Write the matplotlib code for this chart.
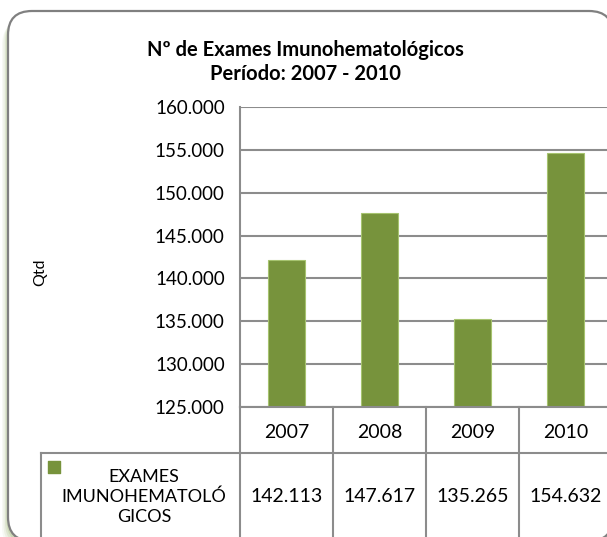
import matplotlib.pyplot as plt
from matplotlib.patches import FancyBboxPatch

plt.rcParams['font.family'] = ['Lato', 'DejaVu Sans']

anos = ['2007', '2008', '2009', '2010']
exames = [142113, 147617, 135265, 154632]
serie = 'EXAMES\nIMUNOHEMATOLÓ\nGICOS'
titulo = 'Nº de Exames Imunohematológicos\nPeríodo: 2007 - 2010'

W, H = 607, 537
verde = '#77933c'
cinza = '#8c8c8c'

def fmt(v):
    return f"{v:,.0f}".replace(',', '.')

def caixa(l, t, r, b):
    # pixel box -> figure fraction
    return [l / W, (H - b) / H, (r - l) / W, (b - t) / H]

fig = plt.figure(figsize=(W / 100, H / 100), dpi=100)

# moldura arredondada com sombra
fundo = fig.add_axes([0, 0, 1, 1])
fundo.set_xlim(0, W)
fundo.set_ylim(H, 0)
fundo.axis('off')
for k, a in enumerate([0.06, 0.09, 0.13, 0.18]):
    d = 6 - k * 1.5
    fundo.add_patch(FancyBboxPatch((8 - d, 12 + d * 1.5), 605, 530,
                                   boxstyle='round,pad=0,rounding_size=24',
                                   fc='#7f9f48', ec='none', alpha=a))
fundo.add_patch(FancyBboxPatch((8, 11), 605, 530,
                               boxstyle='round,pad=0,rounding_size=24',
                               fc='white', ec='#808080', lw=1.6))
fundo.text(305, 62, titulo, ha='center', va='center', fontsize=14.5,
           fontweight='bold', linespacing=1.2)
fundo.text(40, 272, 'Qtd', rotation=90, ha='center', va='center', fontsize=11.5)

# grafico de barras
ax = fig.add_axes(caixa(240, 107, 612, 407))
x = list(range(len(anos)))
ax.bar(x, exames, width=0.4, color=verde, edgecolor='#a6c36f', lw=0.8, zorder=3)
ax.set_xlim(-0.5, 3.5)
ax.set_ylim(125000, 160000)
ax.set_yticks(range(125000, 160001, 5000))
ax.set_yticklabels([fmt(v) for v in range(125000, 160001, 5000)], fontsize=13.5)
ax.set_xticks([])
ax.grid(axis='y', color=cinza, lw=1.5, zorder=0)
for s in ['top', 'right', 'bottom']:
    ax.spines[s].set_visible(False)
ax.spines['left'].set_color(cinza)
ax.spines['left'].set_linewidth(1.5)
ax.tick_params(axis='y', length=0, pad=11)

# tabela de dados
larg_rot = (240 - 41) / 93
tb = fig.add_axes(caixa(41, 407, 612, 537))
tb.set_xlim(-0.5 - larg_rot, 3.5)
tb.set_ylim(130, 0)
tb.axis('off')
lk = dict(color=cinza, lw=1.5, clip_on=False)
tb.plot([-0.5, 3.5], [0, 0], **lk)
tb.plot([-0.5 - larg_rot, 3.5], [46, 46], **lk)
tb.plot([-0.5 - larg_rot] * 2, [46, 140], **lk)
for i in x:
    tb.plot([i - 0.5, i - 0.5], [0, 140], **lk)
    tb.text(i, 25, anos[i], ha='center', va='center', fontsize=14)
    tb.text(i, 90, fmt(exames[i]), ha='center', va='center', fontsize=14)
tb.text(-0.5 - larg_rot / 2 + 0.04, 90, serie, ha='center', va='center',
        fontsize=13, linespacing=1.3)
tb.scatter([-0.5 - larg_rot + 0.14], [60], marker='s', s=72, color=verde)

fig.savefig('out.png', dpi=100)
